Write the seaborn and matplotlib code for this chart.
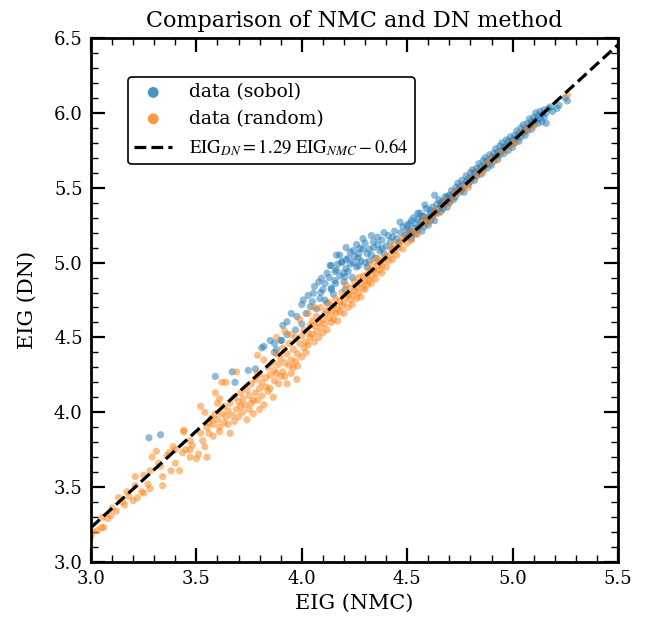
import matplotlib
matplotlib.use("Agg")
import matplotlib.pyplot as plt
import seaborn as sns
import numpy as np
import pandas as pd
from matplotlib.ticker import MultipleLocator

# ---------------- data ----------------
sobol_points = [
    (3.275, 3.83), (3.33, 3.85), (3.59, 4.24), (3.67, 4.27), (3.683, 4.20), (3.746, 4.28),
    (3.78, 4.29), (3.81, 4.43), (3.87, 4.46), (3.90, 4.48), (3.87, 4.40), (3.82, 4.44),
    (3.85, 4.48), (3.88, 4.42), (3.905, 4.48), (3.91, 4.58), (3.93, 4.605), (3.95, 4.66),
    (3.976, 4.64), (3.97, 4.55), (4.00, 4.59), (3.93, 4.52), (4.00, 4.72), (4.007, 4.75),
    (4.04, 4.705), (4.055, 4.795), (4.08, 4.87), (4.086, 4.76), (4.094, 4.895), (4.10, 4.82),
    (4.12, 4.93), (4.12, 4.73), (4.134, 4.98), (4.14, 4.83), (4.14, 4.98), (4.14, 4.82),
    (4.157, 4.88), (4.157, 4.94), (4.165, 4.95), (4.165, 5.05), (4.19, 5.00), (4.19, 5.006),
    (4.197, 4.93), (4.205, 4.905), (4.205, 4.82), (4.21, 4.96), (4.21, 5.10), (4.22, 5.03),
    (4.244, 5.00), (4.244, 5.08), (4.268, 5.03), (4.27, 4.98), (4.276, 5.095), (4.29, 5.16),
    (4.31, 5.06), (4.32, 5.01), (4.32, 5.09), (4.34, 5.14), (4.36, 5.17), (4.38, 5.095),
    (4.39, 5.20), (4.43, 5.17), (4.466, 5.27), (4.50, 5.22), (4.51, 5.26), (4.52, 5.19),
    (4.55, 5.33), (4.57, 5.31), (4.584, 5.385), (4.61, 5.35), (4.63, 5.45), (4.66, 5.40),
    (4.69, 5.44),
    (4.02, 4.66), (4.03, 4.78), (4.05, 4.74), (4.06, 4.84), (4.07, 4.69), (4.09, 4.80),
    (4.11, 4.86), (4.11, 4.75), (4.13, 4.90), (4.15, 4.79), (4.16, 4.86), (4.17, 4.99),
    (4.18, 4.91), (4.18, 5.05), (4.20, 4.87), (4.21, 5.02), (4.22, 4.94), (4.23, 5.07),
    (4.23, 4.99), (4.24, 4.90), (4.25, 5.04), (4.26, 5.12), (4.26, 4.97), (4.27, 5.06),
    (4.28, 5.01), (4.29, 5.09), (4.30, 5.13), (4.30, 5.00), (4.31, 4.97), (4.33, 5.05),
    (4.33, 5.18), (4.34, 5.10), (4.35, 5.03), (4.36, 5.12), (4.37, 5.08), (4.38, 5.15),
    (4.39, 5.06), (4.40, 5.11), (4.41, 5.18), (4.42, 5.14), (4.43, 5.09), (4.44, 5.21),
    (4.45, 5.16), (4.46, 5.13), (4.47, 5.20), (4.48, 5.24), (4.49, 5.18),
    (4.50, 5.17), (4.50, 5.25), (4.51, 5.21), (4.52, 5.28), (4.52, 5.16), (4.53, 5.23),
    (4.53, 5.30), (4.54, 5.19), (4.54, 5.26), (4.55, 5.22), (4.55, 5.29), (4.56, 5.25),
    (4.56, 5.33), (4.57, 5.21), (4.57, 5.28), (4.58, 5.24), (4.58, 5.31), (4.59, 5.27),
    (4.59, 5.36), (4.60, 5.30), (4.60, 5.25),
    (4.61, 5.33), (4.61, 5.28), (4.62, 5.37), (4.62, 5.31), (4.63, 5.34), (4.63, 5.28),
    (4.64, 5.39), (4.64, 5.33), (4.65, 5.36), (4.65, 5.42), (4.66, 5.34), (4.66, 5.38),
    (4.67, 5.41), (4.67, 5.36), (4.68, 5.44), (4.68, 5.39), (4.69, 5.41), (4.69, 5.37),
    (4.70, 5.45), (4.70, 5.40),
    (4.71, 5.43), (4.71, 5.48), (4.72, 5.42), (4.72, 5.46), (4.73, 5.50), (4.73, 5.44),
    (4.74, 5.48), (4.74, 5.53), (4.75, 5.47), (4.75, 5.51), (4.76, 5.49), (4.76, 5.55),
    (4.77, 5.52), (4.77, 5.47), (4.78, 5.54), (4.78, 5.58), (4.79, 5.52), (4.79, 5.56),
    (4.80, 5.60), (4.80, 5.54),
    (4.81, 5.57), (4.81, 5.62), (4.82, 5.55), (4.82, 5.60), (4.83, 5.63), (4.83, 5.58),
    (4.84, 5.66), (4.84, 5.61), (4.85, 5.59), (4.85, 5.64), (4.86, 5.68), (4.86, 5.62),
    (4.87, 5.65), (4.87, 5.70), (4.88, 5.63), (4.88, 5.68), (4.89, 5.72), (4.89, 5.66),
    (4.90, 5.70), (4.90, 5.65),
    (4.91, 5.73), (4.91, 5.68), (4.92, 5.71), (4.92, 5.76), (4.93, 5.69), (4.93, 5.74),
    (4.94, 5.78), (4.94, 5.72), (4.95, 5.75), (4.95, 5.80), (4.96, 5.73), (4.96, 5.77),
    (4.97, 5.82), (4.97, 5.78), (4.98, 5.75), (4.98, 5.81), (4.99, 5.84), (4.99, 5.79),
    (5.00, 5.82), (5.00, 5.77),
    (5.01, 5.85), (5.01, 5.80), (5.02, 5.88), (5.02, 5.83), (5.03, 5.86), (5.03, 5.81),
    (5.04, 5.90), (5.04, 5.84), (5.05, 5.87), (5.05, 5.92), (5.06, 5.85), (5.06, 5.89),
    (5.07, 5.93), (5.07, 5.88), (5.08, 5.96), (5.08, 5.91), (5.09, 5.89), (5.09, 5.94),
    (5.10, 5.97), (5.10, 5.92),
    (5.11, 5.95), (5.11, 6.00), (5.12, 5.93), (5.12, 5.98), (5.13, 5.96), (5.13, 6.01),
    (5.14, 5.99), (5.14, 5.94), (5.15, 6.02), (5.15, 5.97), (5.16, 5.93), (5.16, 6.00),
    (5.17, 6.03), (5.18, 6.04), (5.19, 6.01), (5.21, 6.03), (5.22, 6.05), (5.26, 6.08),
    (5.25, 6.10),
]

random_points = [
    (3.00, 3.17), (3.01, 3.20), (3.03, 3.21), (3.05, 3.23), (3.06, 3.23), (3.055, 3.30),
    (3.08, 3.29), (3.095, 3.31), (3.10, 3.36), (3.12, 3.34), (3.13, 3.43), (3.15, 3.40),
    (3.16, 3.38), (3.17, 3.47), (3.18, 3.44), (3.20, 3.41), (3.21, 3.51), (3.21, 3.57),
    (3.22, 3.43), (3.24, 3.47), (3.25, 3.46), (3.25, 3.58), (3.27, 3.52), (3.28, 3.61),
    (3.28, 3.49), (3.29, 3.70), (3.31, 3.74), (3.32, 3.66), (3.33, 3.64), (3.34, 3.57),
    (3.34, 3.51), (3.36, 3.71), (3.37, 3.73), (3.38, 3.61), (3.39, 3.77), (3.40, 3.75),
    (3.40, 3.66), (3.42, 3.61), (3.44, 3.87), (3.435, 3.73), (3.45, 3.75), (3.47, 3.70),
    (3.47, 3.81), (3.48, 3.78), (3.50, 3.69), (3.51, 3.72), (3.52, 3.86), (3.54, 3.77),
    (3.55, 3.70), (3.55, 3.90),
    (3.44, 3.88), (3.47, 3.75), (3.53, 3.81), (3.56, 3.93), (3.61, 3.90), (3.64, 3.97),
    (3.66, 3.86), (3.71, 4.04), (3.74, 3.95), (3.77, 4.08), (3.80, 4.02), (3.83, 4.17),
    (3.865, 4.10), (3.90, 4.24), (3.93, 4.19), (3.96, 4.30), (3.976, 4.22), (3.82, 4.35),
    (3.79, 4.26), (3.62, 4.20), (3.64, 4.20), (3.69, 4.27), (3.79, 4.38), (3.52, 4.04),
    (3.54, 4.00), (3.60, 4.06), (3.61, 4.09), (3.59, 4.13),
    (3.56, 3.86), (3.57, 3.96), (3.58, 3.92), (3.58, 3.84), (3.59, 3.99), (3.60, 3.95),
    (3.61, 3.87), (3.62, 3.99), (3.63, 3.93), (3.63, 4.04), (3.65, 4.01), (3.65, 3.92),
    (3.66, 4.06), (3.67, 3.98), (3.68, 4.10), (3.68, 3.94), (3.69, 4.02), (3.70, 4.07),
    (3.70, 3.97), (3.71, 4.13), (3.72, 4.00), (3.72, 4.09), (3.73, 4.05), (3.74, 4.15),
    (3.75, 4.02), (3.75, 4.11), (3.76, 4.19), (3.76, 4.06), (3.77, 3.99), (3.78, 4.13),
    (3.78, 4.22), (3.79, 4.08), (3.80, 4.16), (3.80, 4.25), (3.81, 4.11), (3.81, 4.20),
    (3.82, 4.05), (3.83, 4.23), (3.84, 4.14), (3.84, 4.30),
    (3.85, 4.25), (3.85, 4.16), (3.86, 4.33), (3.87, 4.28), (3.87, 4.21), (3.88, 4.39),
    (3.88, 4.26), (3.89, 4.32), (3.89, 4.19), (3.90, 4.36), (3.91, 4.27), (3.91, 4.43),
    (3.92, 4.33), (3.92, 4.24), (3.93, 4.39), (3.94, 4.31), (3.94, 4.46), (3.95, 4.35),
    (3.95, 4.26), (3.96, 4.42), (3.97, 4.34), (3.97, 4.50), (3.98, 4.39), (3.98, 4.31),
    (3.99, 4.46), (4.00, 4.37), (4.00, 4.51), (4.01, 4.43), (4.01, 4.55), (4.02, 4.47),
    (4.02, 4.40), (4.03, 4.53), (4.03, 4.45), (4.04, 4.58), (4.04, 4.50),
    (3.88, 4.50), (3.92, 4.54), (3.95, 4.52), (3.99, 4.62), (4.03, 4.66), (4.06, 4.70),
    (4.05, 4.52), (4.05, 4.61), (4.06, 4.47), (4.06, 4.58), (4.07, 4.64), (4.07, 4.54),
    (4.08, 4.50), (4.08, 4.60), (4.09, 4.70), (4.09, 4.57), (4.10, 4.62), (4.10, 4.53),
    (4.11, 4.66), (4.11, 4.59), (4.12, 4.55), (4.12, 4.68), (4.13, 4.63), (4.13, 4.73),
    (4.14, 4.60), (4.14, 4.67), (4.15, 4.71), (4.15, 4.62), (4.16, 4.66), (4.16, 4.76),
    (4.17, 4.69), (4.17, 4.61), (4.18, 4.74), (4.18, 4.67), (4.19, 4.71), (4.19, 4.80),
    (4.20, 4.73), (4.20, 4.66), (4.21, 4.77), (4.21, 4.85), (4.22, 4.70), (4.22, 4.79),
    (4.23, 4.75), (4.23, 4.83), (4.24, 4.78), (4.24, 4.72), (4.25, 4.87), (4.25, 4.81),
    (4.26, 4.76), (4.26, 4.84), (4.27, 4.90), (4.27, 4.80), (4.28, 4.86), (4.28, 4.77),
    (4.29, 4.83), (4.29, 4.91), (4.30, 4.88), (4.30, 4.82),
    (4.31, 4.92), (4.31, 4.85), (4.32, 4.96), (4.32, 4.88), (4.33, 4.91), (4.33, 4.86),
    (4.34, 4.95), (4.34, 5.00), (4.35, 4.93), (4.35, 4.89), (4.36, 4.98), (4.36, 5.03),
    (4.37, 4.95), (4.37, 5.00), (4.38, 4.98), (4.38, 4.93), (4.39, 5.02), (4.40, 5.04),
    (4.40, 4.97), (4.41, 5.01), (4.42, 5.05), (4.42, 5.10), (4.43, 5.02), (4.44, 5.08),
    (4.44, 5.12), (4.45, 5.05), (4.46, 5.10), (4.47, 5.14), (4.48, 5.09), (4.48, 5.16),
    (4.50, 5.13), (4.51, 5.19), (4.52, 5.15), (4.53, 5.21), (4.55, 5.19),
    (4.57, 5.25), (4.58, 5.29), (4.60, 5.27), (4.62, 5.30), (4.63, 5.35), (4.65, 5.33),
    (4.67, 5.38), (4.68, 5.41), (4.70, 5.40), (4.72, 5.44), (4.73, 5.47), (4.75, 5.48),
    (4.77, 5.51), (4.79, 5.50), (4.80, 5.55), (4.82, 5.57), (4.84, 5.61), (4.86, 5.60),
    (4.88, 5.66), (4.90, 5.69), (4.92, 5.68), (4.94, 5.73), (4.97, 5.76), (4.99, 5.79),
    (5.01, 5.80), (5.04, 5.86), (5.07, 5.89), (5.10, 5.91), (5.26, 6.12),
]

fit_slope = 1.29
fit_intercept = -0.64
fit_x = [3.0, 5.5]

x_ticks = [3.0, 3.5, 4.0, 4.5, 5.0, 5.5]
y_ticks = [3.0, 3.5, 4.0, 4.5, 5.0, 5.5, 6.0, 6.5]

title = "Comparison of NMC and DN method"
x_label = "EIG (NMC)"
y_label = "EIG (DN)"
label_sobol = "data (sobol)"
label_random = "data (random)"
label_fit = r"$\mathrm{EIG}_{DN}=1.29\ \mathrm{EIG}_{NMC}-0.64$"

# ---------------- styling ----------------
sns.set_style("ticks")
plt.rcParams["font.family"] = ["DejaVu Serif"]
plt.rcParams["mathtext.fontset"] = "stix"
plt.rcParams["text.color"] = "black"
plt.rcParams["axes.labelcolor"] = "black"
plt.rcParams["xtick.color"] = "black"
plt.rcParams["ytick.color"] = "black"

sobol_df = pd.DataFrame(sobol_points, columns=["nmc", "dn"])
random_df = pd.DataFrame(random_points, columns=["nmc", "dn"])
fit_df = pd.DataFrame({"nmc": fit_x})
fit_df["dn"] = fit_slope * fit_df["nmc"] + fit_intercept

fig = plt.figure(figsize=(6.51, 6.30), dpi=100)
ax = fig.add_axes([91 / 651, 1 - 562 / 630, (618 - 91) / 651, (562 - 38) / 630])

sns.scatterplot(data=sobol_df, x="nmc", y="dn", ax=ax, color="#1f77b4", s=27,
                alpha=0.5, edgecolor="none", label=label_sobol)
sns.scatterplot(data=random_df, x="nmc", y="dn", ax=ax, color="#ff7f0e", s=27,
                alpha=0.5, edgecolor="none", label=label_random)
sns.lineplot(data=fit_df, x="nmc", y="dn", ax=ax, color="black", lw=2.3,
             linestyle="--", label=label_fit)

ax.set_xlim(3.0, 5.5)
ax.set_ylim(3.0, 6.5)
ax.set_xticks(x_ticks)
ax.set_yticks(y_ticks)
ax.xaxis.set_minor_locator(MultipleLocator(0.1))
ax.yaxis.set_minor_locator(MultipleLocator(0.1))
ax.tick_params(which="major", direction="in", length=10, width=1.6,
               top=True, right=True, labelsize=13, pad=6)
ax.tick_params(which="minor", direction="in", length=5, width=1.0,
               top=True, right=True)
for sp in ax.spines.values():
    sp.set_linewidth(2.0)
    sp.set_color("black")

ax.set_title(title, fontsize=16, pad=8)
ax.set_xlabel(x_label, fontsize=15, labelpad=4)
ax.set_ylabel(y_label, fontsize=15, labelpad=12)

leg = ax.legend(loc="upper left", bbox_to_anchor=(0.07, 0.926), borderaxespad=0,
                fontsize=13.5, frameon=True, fancybox=True, framealpha=1,
                edgecolor="black", markerscale=1.5, handlelength=2.0,
                handletextpad=0.9, labelspacing=0.45, borderpad=0.35)
leg.get_frame().set_linewidth(1.2)
for h in leg.legend_handles[:2]:
    h.set_alpha(0.8)

fig.savefig("out.png", dpi=100)
